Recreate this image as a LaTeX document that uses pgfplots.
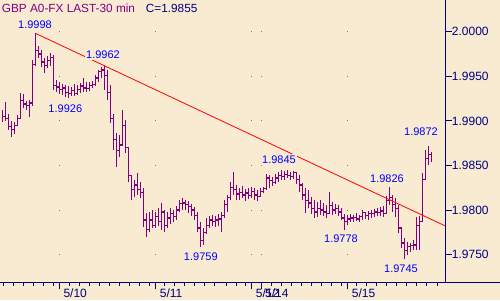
\documentclass[border=0pt]{standalone}
\usepackage{pgfplots}
\pgfplotsset{compat=1.18}
\usepackage{pgfplotstable}
\usepackage{fontspec}
\setmainfont{Liberation Sans}
\definecolor{bg}{HTML}{F8EBD2}
\definecolor{navyC}{HTML}{000080}
\definecolor{purpC}{HTML}{800080}
\definecolor{lblue}{HTML}{0000FF}

\pgfplotstableread{
x h l c
2.7 1.9912 1.9899 1.9905
5.7 1.9921 1.9900 1.9903
8.7 1.9908 1.9890 1.9894
11.7 1.9900 1.9882 1.9890
14.7 1.9899 1.9885 1.9895
17.7 1.9907 1.9894 1.9903
20.7 1.9931 1.9902 1.9923
23.7 1.9930 1.9914 1.9919
26.7 1.9922 1.9912 1.9917
29.7 1.9923 1.9904 1.9920
32.7 1.9968 1.9917 1.9963
35.7 1.9998 1.9962 1.9979
38.7 1.9984 1.9971 1.9975
41.7 1.9979 1.9960 1.9966
44.7 1.9971 1.9954 1.9962
47.7 1.9973 1.9959 1.9968
50.7 1.9976 1.9962 1.9971
53.7 1.9974 1.9935 1.9940
56.7 1.9946 1.9932 1.9938
59.7 1.9944 1.9930 1.9935
62.7 1.9941 1.9929 1.9937
65.7 1.9940 1.9927 1.9932
68.7 1.9939 1.9926 1.9931
71.7 1.9938 1.9928 1.9934
74.7 1.9941 1.9928 1.9931
77.7 1.9940 1.9929 1.9935
80.7 1.9942 1.9931 1.9939
83.7 1.9948 1.9932 1.9937
86.7 1.9944 1.9932 1.9936
89.7 1.9944 1.9934 1.9940
92.7 1.9945 1.9937 1.9941
95.7 1.9951 1.9939 1.9948
98.7 1.9957 1.9944 1.9955
101.7 1.9960 1.9948 1.9957
104.7 1.9962 1.9935 1.9951
107.7 1.9957 1.9923 1.9932
110.7 1.9940 1.9898 1.9903
113.7 1.9908 1.9867 1.9879
116.7 1.9886 1.9848 1.9867
119.7 1.9884 1.9860 1.9873
122.7 1.9912 1.9873 1.9895
125.7 1.9901 1.9864 1.9870
128.7 1.9871 1.9831 1.9839
131.7 1.9839 1.9811 1.9823
134.7 1.9834 1.9815 1.9828
137.7 1.9842 1.9817 1.9823
140.7 1.9831 1.9814 1.9820
143.7 1.9825 1.9781 1.9789
146.7 1.9797 1.9770 1.9778
149.7 1.9798 1.9775 1.9789
152.7 1.9800 1.9780 1.9783
155.7 1.9798 1.9780 1.9793
158.7 1.9802 1.9782 1.9787
161.7 1.9808 1.9778 1.9798
164.7 1.9800 1.9775 1.9783
167.7 1.9798 1.9780 1.9791
170.7 1.9802 1.9784 1.9796
173.7 1.9800 1.9787 1.9793
176.7 1.9805 1.9789 1.9800
179.7 1.9811 1.9798 1.9807
182.7 1.9814 1.9800 1.9808
185.7 1.9811 1.9800 1.9806
188.7 1.9810 1.9797 1.9804
191.7 1.9807 1.9793 1.9800
194.7 1.9804 1.9789 1.9794
197.7 1.9798 1.9775 1.9780
200.7 1.9787 1.9759 1.9766
203.7 1.9780 1.9761 1.9775
206.7 1.9791 1.9773 1.9783
209.7 1.9793 1.9780 1.9789
212.7 1.9794 1.9782 1.9787
215.7 1.9793 1.9781 1.9789
218.7 1.9796 1.9782 1.9790
221.7 1.9798 1.9775 1.9794
224.7 1.9811 1.9791 1.9806
227.7 1.9817 1.9798 1.9814
230.7 1.9831 1.9811 1.9825
233.7 1.9843 1.9817 1.9823
236.7 1.9828 1.9811 1.9818
239.7 1.9825 1.9811 1.9820
242.7 1.9827 1.9814 1.9817
245.7 1.9824 1.9810 1.9819
248.7 1.9825 1.9812 1.9816
251.7 1.9826 1.9814 1.9821
254.7 1.9825 1.9811 1.9817
257.7 1.9823 1.9810 1.9815
260.7 1.9825 1.9818 1.9821
263.7 1.9826 1.9819 1.9824
266.7 1.9840 1.9823 1.9836
269.7 1.9839 1.9825 1.9833
272.7 1.9837 1.9827 1.9831
275.7 1.9840 1.9829 1.9836
278.7 1.9843 1.9831 1.9839
281.7 1.9845 1.9834 1.9838
284.7 1.9844 1.9834 1.9840
287.7 1.9845 1.9836 1.9839
290.7 1.9843 1.9834 1.9838
293.7 1.9844 1.9835 1.9842
296.7 1.9843 1.9829 1.9834
299.7 1.9839 1.9820 1.9828
302.7 1.9830 1.9811 1.9817
305.7 1.9825 1.9797 1.9811
308.7 1.9823 1.9802 1.9808
311.7 1.9815 1.9796 1.9802
314.7 1.9811 1.9791 1.9798
317.7 1.9809 1.9792 1.9802
320.7 1.9811 1.9794 1.9800
323.7 1.9808 1.9793 1.9798
326.7 1.9806 1.9791 1.9796
329.7 1.9820 1.9798 1.9805
332.7 1.9809 1.9794 1.9800
335.7 1.9807 1.9796 1.9802
338.7 1.9806 1.9793 1.9798
341.7 1.9802 1.9789 1.9791
344.7 1.9796 1.9778 1.9787
347.7 1.9794 1.9783 1.9790
350.7 1.9796 1.9787 1.9791
353.7 1.9794 1.9787 1.9792
356.7 1.9797 1.9788 1.9790
359.7 1.9794 1.9787 1.9793
362.7 1.9800 1.9789 1.9797
365.7 1.9798 1.9790 1.9794
368.7 1.9799 1.9789 1.9796
371.7 1.9800 1.9791 1.9796
374.7 1.9801 1.9792 1.9798
377.7 1.9802 1.9793 1.9797
380.7 1.9804 1.9793 1.9799
383.7 1.9805 1.9792 1.9796
386.7 1.9816 1.9796 1.9811
389.7 1.9826 1.9806 1.9814
392.7 1.9817 1.9798 1.9806
395.7 1.9814 1.9792 1.9802
398.7 1.9806 1.9774 1.9780
401.7 1.9780 1.9758 1.9763
404.7 1.9769 1.9745 1.9755
407.7 1.9764 1.9750 1.9759
410.7 1.9763 1.9753 1.9760
413.7 1.9766 1.9755 1.9761
416.7 1.9792 1.9755 1.9783
419.7 1.9793 1.9755 1.9787
422.7 1.9842 1.9787 1.9834
425.7 1.9867 1.9836 1.9858
428.7 1.9872 1.9851 1.9862
431.7 1.9865 1.9854 1.9855
}\bars

\begin{document}
\begin{tikzpicture}[x=1pt,y=1pt]
\path[use as bounding box, fill=bg] (0,0) rectangle (500,300);
\begin{axis}[
  at={(0pt,17.3pt)}, anchor=south west,
  scale only axis, width=445.7pt, height=282.7pt,
  xmin=0, xmax=445.7, ymin=1.97186, ymax=2.00355,
  no markers,
  axis x line*=bottom, axis y line*=right,
  axis line style={navyC, line width=1pt, -},
  tick align=outside, major tick length=6pt, minor tick length=3pt,
  every tick/.style={navyC, line width=1pt},
  xtick={59.3,155.7,251.7,261,347.7},
  xticklabels={5/10,5/11,5/12,5/14,5/15},
  minor xtick={3.5,13.5,23.5,33.5,43.5,53.5,69,79,89,99,109,119,129,139,149,164,174,184,194,204,214,226,236,245,271.7,281.7,291.7,301.7,311.7,321.7,331.7,341,356.7,366.7,376.7,386.7,396.7,406.7,416.7,426.7,437},
  ytick={1.975,1.98,1.985,1.99,1.995,2.0},
  /pgf/number format/assume math mode=true,
  yticklabel style={/pgf/number format/fixed, /pgf/number format/fixed zerofill, /pgf/number format/precision=4, anchor=west},
  ticklabel style={font=\fontsize{12}{14}\selectfont, text=navyC, inner sep=0pt},
  xticklabel style={anchor=north west, xshift=4pt},
  xmajorgrids,
  major grid style={draw=gray, line width=1pt, dash pattern=on 1pt off 43.6pt, dash phase=17.1pt},
]
\addplot[purpC, line width=1.5pt, draw=none, mark=none,
  error bars/.cd, y dir=plus, y explicit, error mark=none,
  error bar style={draw=purpC, line width=1.5pt}]
  table[x=x, y=l, y error expr=\thisrow{h}-\thisrow{l}] {\bars};
\addplot[purpC, line width=1.3pt, mark=none, const plot mark left] table[x=x, y=c] {\bars};
\addplot[red, line width=0.8pt, mark=none] coordinates {(35.7,1.9998) (445.7,1.9782)};
\tikzset{lbl/.style={fill=bg, text=lblue, inner sep=1.5pt, font=\fontsize{11}{13}\selectfont}}
\node[lbl] at (axis cs:35,2.00075) {1.9998};
\node[lbl] at (axis cs:103,1.99742) {1.9962};
\node[lbl] at (axis cs:65.3,1.99133) {1.9926};
\node[lbl] at (axis cs:200.8,1.97478) {1.9759};
\node[lbl] at (axis cs:279,1.98565) {1.9845};
\node[lbl] at (axis cs:341,1.97679) {1.9778};
\node[lbl] at (axis cs:387,1.98357) {1.9826};
\node[lbl] at (axis cs:401,1.97348) {1.9745};
\node[lbl] at (axis cs:421,1.98879) {1.9872};
\end{axis}
\draw[navyC, line width=1pt] (445.7,17.3) -- (500,17.3);
\node[anchor=base west, inner sep=0pt, text=purpC, font=\fontsize{11.8}{14}\selectfont] at (1.7,287.3) {GBP A0-FX LAST-30 min};
\node[anchor=base west, inner sep=0pt, text=navyC, font=\fontsize{11.8}{14}\selectfont] at (145.7,287.3) {C=1.9855};
\end{tikzpicture}
\end{document}
